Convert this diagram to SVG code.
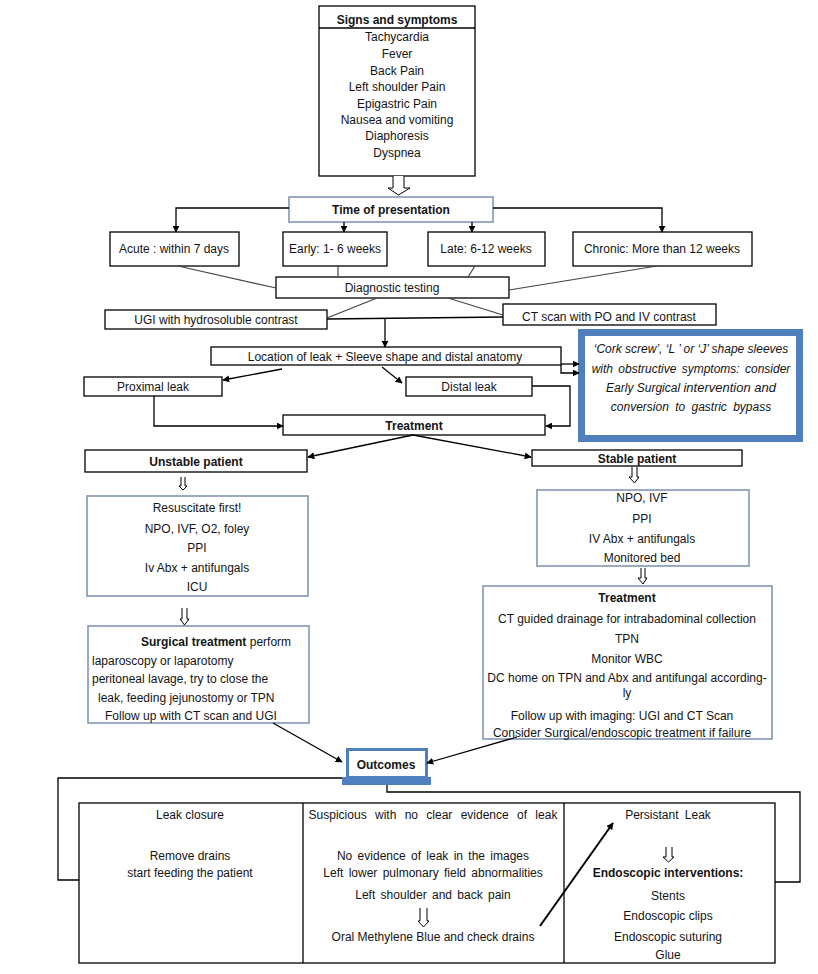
<svg xmlns="http://www.w3.org/2000/svg" width="818" height="974" viewBox="0 0 818 974">
<style>
text{font-family:"Liberation Sans",Arial,sans-serif;fill:#141414;font-size:12px}
.c{text-anchor:middle}
.b{font-weight:bold}
.box{fill:#fff;stroke:#000;stroke-width:1.3}
.bbox{fill:#fff;stroke:#7a8fb0;stroke-width:1.5}
.ln{fill:none;stroke:#000;stroke-width:1.3}
.gl{fill:none;stroke:#444;stroke-width:1.2}
.ar{fill:none;stroke:#000;stroke-width:1.3;marker-end:url(#ah)}
.hol{fill:#fff;stroke:#000;stroke-width:1}
.it{font-style:italic}
</style>
<defs>
<marker id="ah" viewBox="0 0 10 10" refX="9" refY="5" markerWidth="7" markerHeight="7" markerUnits="userSpaceOnUse" orient="auto"><path d="M0,0 L10,5 L0,10 z" fill="#000"/></marker>
</defs>
<rect width="818" height="974" fill="#fff"/>

<g id="signs">
<rect class="box" x="319" y="6" width="156" height="170"/>
<line class="ln" x1="319" y1="28" x2="475" y2="28"/>
<text class="c b" x="397" y="24" font-size="11.5">Signs and symptoms</text>
<text class="c" x="397" y="41">Tachycardia</text>
<text class="c" x="397" y="58">Fever</text>
<text class="c" x="397" y="75">Back Pain</text>
<text class="c" x="397" y="91">Left shoulder Pain</text>
<text class="c" x="397" y="108">Epigastric Pain</text>
<text class="c" x="397" y="124">Nausea and vomiting</text>
<text class="c" x="397" y="140">Diaphoresis</text>
<text class="c" x="397" y="157">Dyspnea</text>
</g>

<g id="time">
<rect class="bbox" x="289" y="197" width="204" height="25"/>
<text class="c b" x="391" y="214" font-size="12.5">Time of presentation</text>
</g>

<g id="acute"><rect class="box" x="110" y="232" width="129" height="34"/><text class="c" x="174" y="253" font-size="11">Acute : within 7 days</text></g>
<g id="early"><rect class="box" x="283" y="232" width="104" height="34"/><text class="c" x="335" y="253" font-size="11">Early: 1- 6 weeks</text></g>
<g id="late"><rect class="box" x="428" y="232" width="117" height="34"/><text class="c" x="486" y="253" font-size="11">Late: 6-12 weeks</text></g>
<g id="chronic"><rect class="box" x="573" y="232" width="179" height="34"/><text class="c" x="662" y="253" font-size="11">Chronic: More than 12 weeks</text></g>

<g id="diag"><rect class="box" x="276" y="277" width="233" height="21"/><text class="c" x="392" y="292" font-size="12.5">Diagnostic testing</text></g>
<g id="ugi"><rect class="box" x="105" y="310" width="222" height="19"/><text class="c" x="216" y="324" font-size="12.5">UGI with hydrosoluble contrast</text></g>
<g id="ct"><rect class="box" x="503" y="304" width="213" height="21"/><text class="c" x="609" y="321" font-size="12.5">CT scan with PO and IV contrast</text></g>

<g id="location"><rect class="box" x="211" y="347" width="350" height="18"/><text class="c" x="385" y="361" font-size="12.5">Location of leak + Sleeve shape and distal anatomy</text></g>

<g id="cork">
<rect x="581.5" y="332.5" width="218" height="106" fill="#fff" stroke="#4f7fbd" stroke-width="7"/>
<text class="c it" x="691" y="353" font-size="11.5">‘Cork screw’, ‘L ’ or ‘J’ shape sleeves</text>
<text class="c it" x="691" y="373" font-size="11.5" word-spacing="2">with obstructive  symptoms:  consider</text>
<text class="c it" x="691" y="392" font-size="11.5">Early Surgical <tspan font-size="13">intervention and</tspan></text>
<text class="c it" x="691" y="411" font-size="12.5" word-spacing="3">conversion  to gastric  bypass</text>
</g>

<g id="proximal"><rect class="box" x="84" y="377" width="138" height="19"/><text class="c" x="153" y="391" font-size="12.5">Proximal leak</text></g>
<g id="distal"><rect class="box" x="406" y="377" width="126" height="19"/><text class="c" x="469" y="391" font-size="12.5">Distal leak</text></g>
<g id="treatment"><rect class="box" x="283" y="415" width="262" height="20"/><text class="c b" x="414" y="430" font-size="12.5">Treatment</text></g>

<g id="unstable"><rect class="box" x="85" y="450" width="222" height="22"/><text class="c b" x="196" y="466" font-size="12">Unstable patient</text></g>
<g id="stable"><rect class="box" x="532" y="450" width="210" height="16"/><text class="c b" x="637" y="463" font-size="12">Stable patient</text></g>

<g id="resus">
<rect class="bbox" x="87" y="496" width="221" height="100"/>
<text class="c" x="197" y="512">Resuscitate first!</text>
<text class="c" x="197" y="533">NPO, IVF, O2, foley</text>
<text class="c" x="197" y="552">PPI</text>
<text class="c" x="197" y="572">Iv Abx + antifungals</text>
<text class="c" x="197" y="591">ICU</text>
</g>

<g id="surgical">
<rect class="bbox" x="88" y="626" width="221" height="97"/>
<text x="141" y="646" font-size="11.5"><tspan class="b">Surgical treatment</tspan>  perform</text>
<text x="92" y="665" font-size="11.5">laparoscopy  or laparotomy</text>
<text x="92" y="683" font-size="11.5">peritoneal  lavage, try to close the</text>
<text x="98" y="702" font-size="11.5">leak, feeding jejunostomy or TPN</text>
<text x="105" y="720" font-size="11.5">Follow up with  CT scan and UGI</text>
</g>

<g id="stablecare">
<rect class="bbox" x="537" y="490" width="212" height="76"/>
<text class="c" x="642" y="502">NPO, IVF</text>
<text class="c" x="642" y="523">PPI</text>
<text class="c" x="642" y="543">IV Abx + antifungals</text>
<text class="c" x="642" y="562">Monitored bed</text>
</g>

<g id="treatment2">
<rect class="bbox" x="483" y="586" width="289" height="153"/>
<text class="c b" x="627" y="602">Treatment</text>
<text class="c" x="627" y="623" font-size="11.7">CT guided drainage for intrabadominal collection</text>
<text class="c" x="627" y="643">TPN</text>
<text class="c" x="627" y="663">Monitor WBC</text>
<text class="c" x="627" y="682" font-size="11.7">DC home on TPN and Abx and antifungal according-</text>
<text class="c" x="627" y="697">ly</text>
<text class="c" x="622" y="720" font-size="10.5">Follow up with imaging: UGI and CT Scan</text>
<text class="c" x="622" y="737" font-size="10.5">Consider Surgical/endoscopic treatment if failure</text>
</g>

<g id="outcomes">
<rect x="347.5" y="749.5" width="79" height="28" fill="#fff" stroke="#4f7fbd" stroke-width="3"/>
<rect x="342" y="777" width="89" height="8" fill="#4f7fbd"/>
<text class="c b" x="386" y="769" font-size="12.5">Outcomes</text>
</g>

<g id="table">
<rect class="box" x="79" y="803" width="696" height="160"/>
<line class="ln" x1="303" y1="803" x2="303" y2="963"/>
<line class="ln" x1="564" y1="803" x2="564" y2="963"/>
<text class="c" x="190" y="819">Leak closure</text>
<text class="c" x="190" y="860">Remove drains</text>
<text class="c" x="190" y="877">start feeding the patient</text>
<text class="c" x="433" y="819" word-spacing="5">Suspicious with no clear evidence of leak</text>
<text class="c" x="433" y="860" word-spacing="2">No evidence of leak in the images</text>
<text class="c" x="433" y="877" word-spacing="2">Left lower pulmonary field abnormalities</text>
<text class="c" x="433" y="899" word-spacing="2">Left shoulder and back pain</text>
<text class="c" x="433" y="941">Oral Methylene Blue and check drains</text>
<text class="c" x="668" y="819" word-spacing="3">Persistant Leak</text>
<text class="c b" x="668" y="877">Endoscopic interventions:</text>
<text class="c" x="668" y="900">Stents</text>
<text class="c" x="668" y="920">Endoscopic clips</text>
<text class="c" x="668" y="941">Endoscopic suturing</text>
<text class="c" x="668" y="959">Glue</text>
</g>

<g id="connectors">
<path class="hol" d="M393,176 V188 H388 L398.5,195 L410,188 H404 V176"/>
<path class="ar" d="M289,208 H176 V232"/>
<path class="ar" d="M493,208 H662 V232"/>
<path class="ar" d="M344,222 V232"/>
<path class="ar" d="M472,222 V232"/>
<path class="gl" d="M178,266 L276,288"/>
<path class="gl" d="M338,266 V277"/>
<path class="gl" d="M475,266 L468,277"/>
<path class="gl" d="M657,266 L509,290"/>
<path class="gl" d="M377,298 L327,318"/>
<path class="gl" d="M448,298 L503,315"/>
<path class="ln" d="M327,319 L503,317"/>
<path class="ar" d="M385,319 V347"/>
<path class="ar" d="M561,364 H579"/>
<path class="ar" d="M561,365 V373 H579"/>
<path class="ar" d="M282,369 L223,380"/>
<path class="ar" d="M382,367 L402,383"/>
<path class="ar" d="M154,396 V426 H283"/>
<path class="ar" d="M532,386 H570 V426 H546"/>
<path class="ar" d="M413,435 L308,457"/>
<path class="ar" d="M413,435 L531,457"/>
<path class="hol" d="M181,477 V486 H179 L183,490 L187,486 H185 V477"/>
<path class="hol" d="M182,608 V619 H180 L184.5,625 L189,619 H187 V608"/>
<path class="hol" d="M632,467 V477 H629 L634.5,483 L639,477 H637 V467"/>
<path class="hol" d="M641,568 V578 H638 L643,584 L647,578 H645 V568"/>
<path class="ar" d="M273,723 L342,762"/>
<path class="ar" d="M517,737 L427,763"/>
<path class="ln" d="M342,778 H58 V880 H79"/>
<path class="ln" d="M387,785 V792 H800 V882 H775"/>
<path class="hol" d="M420,908 V921 H418 L423.5,927 L429,921 H427 V908"/>
<path class="hol" d="M666,847 V857 H663 L668.5,862 L674,857 H672 V847"/>
<path fill="none" stroke="#000" stroke-width="2" marker-end="url(#ah)" d="M540,926 L613,823"/>
</g>
</svg>
